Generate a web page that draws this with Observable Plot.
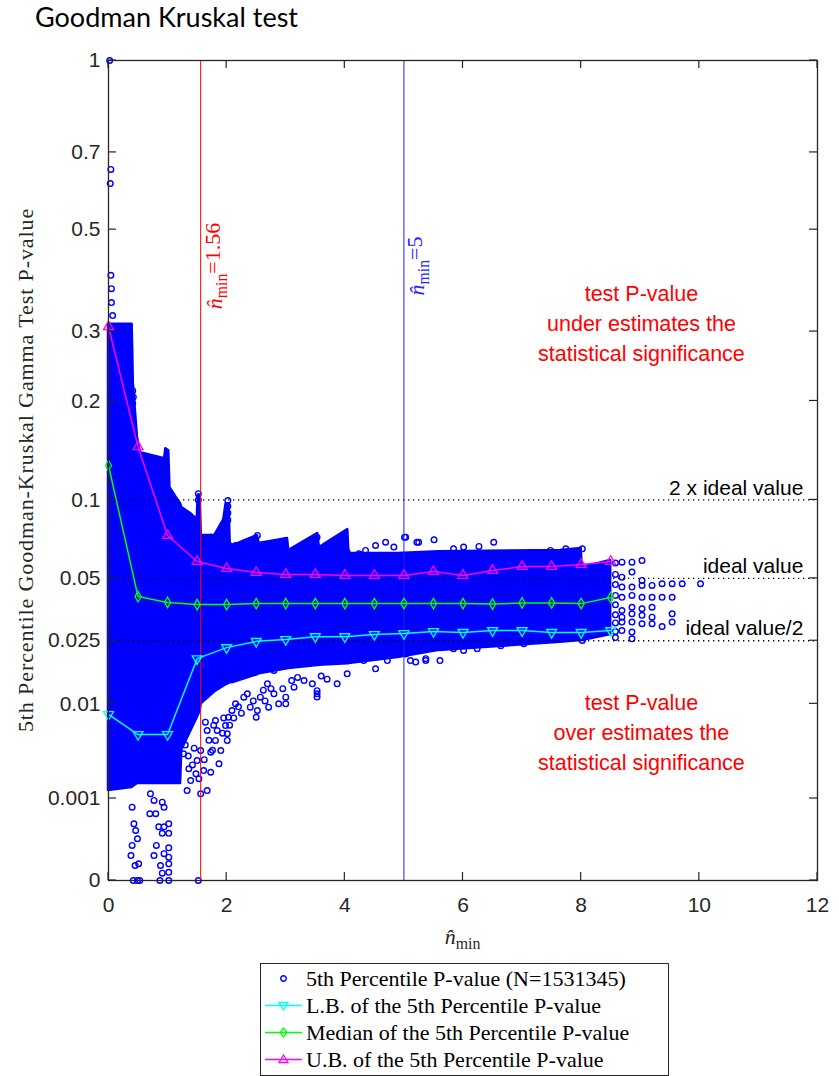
<!DOCTYPE html>
<html>
<head>
<meta charset="utf-8">
<script src="https://cdn.jsdelivr.net/npm/d3@7"></script>
<script src="https://cdn.jsdelivr.net/npm/@observablehq/plot@0.6"></script>
<style>
  body { margin: 0; background: #fff; }
  #wrap { position: relative; width: 839px; height: 1076px; overflow: hidden; background: #fff; }
  #title { position: absolute; left: 35px; top: 3px; font-family: Lato, "Open Sans", sans-serif; font-size: 27px; line-height: 1; color: #000; white-space: nowrap; }
  #chart { position: absolute; left: 0; top: 0; }
  #legend { position: absolute; left: 260px; top: 963px; width: 407px; height: 110px; border: 1px solid #262626; background: #fff; padding-top: 1px; }
  .row { position: relative; height: 27px; }
  .row svg { position: absolute; left: 0; top: 0; }
  .row span { position: absolute; left: 45px; top: 0; line-height: 27px; font-family: "Liberation Serif", "DejaVu Serif", serif; font-size: 22px; color: #000; white-space: nowrap; }
</style>
</head>
<body>
<div id="wrap">
  <div id="chart"></div>
  <div id="title">Goodman Kruskal test</div>
  <div id="legend"></div>
</div>
<script>
// ---------- data ----------
// bin centres of the summary curves (n̂_min)
const nGrid = [0, 0.5, 1, 1.5, 2, 2.5, 3, 3.5, 4, 4.5, 5, 5.5, 6, 6.5, 7, 7.5, 8, 8.5];
// lower bound of the 5th percentile P-value
const lbP  = [0.0083, 0.00564, 0.00564, 0.0198, 0.0229, 0.0248, 0.0254, 0.0263, 0.0263, 0.027, 0.0273, 0.028, 0.0277, 0.0283, 0.0283, 0.0277, 0.0277, 0.0283];
// median of the 5th percentile P-value
const medP = [0.1296, 0.0415, 0.039, 0.0381, 0.0381, 0.0385, 0.0385, 0.0385, 0.0385, 0.0385, 0.0385, 0.0385, 0.0385, 0.0383, 0.0388, 0.0388, 0.0385, 0.0411];
// upper bound of the 5th percentile P-value
const ubP  = [0.308, 0.148, 0.0745, 0.0589, 0.0551, 0.053, 0.052, 0.052, 0.0515, 0.0515, 0.0515, 0.0535, 0.0515, 0.054, 0.0561, 0.0561, 0.0572, 0.0589];

// envelope of the dense scatter cloud
const envN    = [0, 0.40, 0.41, 0.42, 0.49, 0.54, 0.95, 0.97, 1.02, 1.04, 1.18, 1.22, 1.24, 1.39, 1.50, 1.52, 1.55, 1.57, 1.80, 1.95, 1.99, 2.04, 2.06, 2.12, 2.52, 2.55, 3.03, 3.05, 3.54, 3.57, 4.05, 4.07, 4.9, 5.6, 7.65, 8.0, 8.02, 8.5];
const envHigh = [0.312, 0.312, 0.27, 0.223, 0.158, 0.142, 0.136, 0.146, 0.144, 0.110, 0.0995, 0.097, 0.094, 0.0897, 0.085, 0.104, 0.104, 0.0745, 0.0745, 0.085, 0.097, 0.097, 0.0694, 0.0682, 0.0745, 0.0694, 0.0726, 0.0652, 0.0758, 0.067, 0.0784, 0.0634, 0.0634, 0.0645, 0.0652, 0.0664, 0.0556, 0.0594];
const envLow  = [0.00132, 0.00146, 0.0015, 0.0015, 0.00166, 0.00166, 0.00166, 0.00166, 0.00166, 0.00166, 0.00166, 0.00166, 0.004, 0.006, 0.0078, 0.0082, 0.0088, 0.0100, 0.0122, 0.0133, 0.0136, 0.0139, 0.0140, 0.0141, 0.0158, 0.0160, 0.0172, 0.0173, 0.0180, 0.0181, 0.0185, 0.0185, 0.0201, 0.0221, 0.0245, 0.0251, 0.0251, 0.027];

// individual points outside the dense cloud
const outN = [
  0.02, 0.04, 0.03, 0.04, 0.05, 0.05, 0.07, 0.41, 0.42, 0.41,
  1.52, 1.52, 2.02, 2.02, 2.02, 2.02,
  0.40, 0.43, 0.46, 0.49, 0.40, 0.38, 0.45, 0.51, 0.42, 0.49, 0.53,
  0.71, 0.77, 0.70, 0.80, 0.91, 0.94, 0.85, 0.94, 0.91, 1.02, 1.02, 0.81, 0.77, 0.94, 1.02, 1.02, 0.88, 1.02, 0.91, 1.02, 0.87, 1.02, 1.52,
  1.27, 1.36, 1.39, 1.33, 1.50, 1.53, 1.56, 1.67, 1.61, 1.73, 1.56, 1.73, 1.87, 1.90, 1.81, 2.01, 2.01, 1.67, 1.84, 1.98, 2.03, 1.81, 2.09, 2.15, 2.29, 2.40, 2.50, 2.35, 2.52, 2.57, 2.71, 2.69, 2.80, 2.88, 3.00, 3.00, 2.80, 3.14, 3.31, 3.53, 3.87, 4.04, 4.32, 4.52, 4.72, 5.11, 5.37,
  1.30, 1.35, 1.45, 1.42, 1.48, 1.62, 1.70, 1.76, 1.64, 1.78, 1.93, 1.95, 2.05, 2.12, 2.20, 2.25, 2.45, 2.62, 2.65, 2.75, 2.95, 3.10, 3.20, 3.45, 3.60, 3.70, 3.53, 3.53,
  1.73, 1.81, 2.15, 2.32, 2.52, 2.63, 2.77, 2.94, 3.11, 3.53, 3.76, 3.87, 4.04, 4.24, 4.35, 4.52, 4.69, 4.83, 5.01, 5.22, 5.03, 5.25, 5.51, 5.84, 6.01, 6.27, 6.52, 7.48, 7.74, 8.02,
  5.03, 5.20, 5.37, 5.61, 5.84, 6.01, 6.24, 6.64, 7.03, 7.31, 8.02,
  8.58, 8.58, 8.58, 8.58, 8.58, 8.58, 8.58, 8.58, 8.58,
  8.69, 8.69, 8.69, 8.69, 8.69, 8.69, 8.69, 8.69,
  8.86, 8.86, 8.86, 8.86, 8.86, 8.86, 8.86, 8.86, 8.86,
  9.03, 9.03, 9.03, 9.03, 9.03, 9.03, 9.03,
  9.20, 9.20, 9.20, 9.20, 9.20,
  9.37, 9.37, 9.37,
  9.54, 9.54, 9.54, 9.54,
  9.71, 10.02
];
const outP = [
  1.0, 0.652, 0.614, 0.402, 0.376, 0.35, 0.327, 0.213, 0.205, 0.197,
  0.105, 0.1, 0.0995, 0.095, 0.09, 0.085,
  0.000714, 0.00033, 0.000227, 0.000132, 0.000078, 0.000028, 0.0000061, 0.0000084, 0, 0, 0,
  0.00118, 0.00093, 0.00054, 0.00054, 0.00087, 0.00071, 0.00028, 0.00028, 0.00019, 0.00033, 0.00019, 0.000078, 0.000028, 0.000035, 0.000063, 0.000023, 0.0000061, 0.0000084, 0.0000007, 0.000001, 0, 0, 0,
  0.00369, 0.00253, 0.00181, 0.00132, 0.00313, 0.00191, 0.00118, 0.00132, 0.00241, 0.0023, 0.00398, 0.00383, 0.00288, 0.00398, 0.00498, 0.00498, 0.00573, 0.00612, 0.00612, 0.00675, 0.00789, 0.00743, 0.00891, 0.01, 0.01117, 0.00944, 0.00789, 0.0118, 0.00891, 0.01117, 0.00944, 0.0138, 0.0118, 0.01, 0.01, 0.01117, 0.0168, 0.0131, 0.0145, 0.0124, 0.0138, 0.016, 0.0193, 0.0172, 0.0193, 0.0193, 0.0193,
  0.0045, 0.0035, 0.0042, 0.0028, 0.0022, 0.0032, 0.0050, 0.0040, 0.0072, 0.0068, 0.0058, 0.0078, 0.0068, 0.0078, 0.0095, 0.0085, 0.0105, 0.0125, 0.0105, 0.0128, 0.0128, 0.0145, 0.0152, 0.0138, 0.0155, 0.0148, 0.0112, 0.0118,
  0.0734, 0.0736, 0.0682, 0.0702, 0.0745, 0.0672, 0.0662, 0.0702, 0.0642, 0.0734, 0.0652, 0.0652, 0.0642, 0.0632, 0.0652, 0.0682, 0.0702, 0.0672, 0.0734, 0.0702, 0.0734, 0.0702, 0.0717, 0.0662, 0.0672, 0.0676, 0.0702, 0.0652, 0.0662, 0.0662,
  0.0211, 0.0189, 0.0198, 0.0193, 0.0226, 0.0221, 0.0226, 0.0235, 0.0241, 0.0251, 0.0251,
  0.058, 0.052, 0.047, 0.042, 0.038, 0.034, 0.031, 0.028, 0.026,
  0.0585, 0.0506, 0.0458, 0.0412, 0.0357, 0.0331, 0.0313, 0.0283,
  0.0585, 0.0532, 0.0458, 0.042, 0.037, 0.0344, 0.0313, 0.0278, 0.0256,
  0.0594, 0.049, 0.0466, 0.0412, 0.0364, 0.0338, 0.0307,
  0.0466, 0.0412, 0.037, 0.0331, 0.0307,
  0.0474, 0.0412, 0.0297,
  0.0474, 0.0412, 0.0344, 0.0313,
  0.0474, 0.0474
];

// reference lines and labels
const thresholdLines = [1.56, 5];
const idealLines = [0.1, 0.05, 0.025];
const idealLabels = ["2 x ideal value", "ideal value", "ideal value/2"];
const xTicks = [0, 2, 4, 6, 8, 10, 12];
const yTicks = [0, 0.001, 0.01, 0.025, 0.05, 0.1, 0.2, 0.3, 0.5, 0.7, 1];
const legendLabels = [
  "5th Percentile P-value (N=1531345)",
  "L.B. of the 5th Percentile P-value",
  "Median of the 5th Percentile P-value",
  "U.B. of the 5th Percentile P-value"
];

// ---------- tables ----------
const envelope = envN.map((n, i) => ({n, low: envLow[i], high: envHigh[i]}));
const outliers = outN.map((n, i) => ({n, p: outP[i]}));
const bounds = nGrid.map((n, i) => ({n, lb: lbP[i], med: medP[i], ub: ubP[i]}));
const idealTbl = idealLines.map((p, i) => ({p, label: idealLabels[i]}));

const BLUE = "#0000ff", CYAN = "#00ffff", GREEN = "#00ff00", MAGENTA = "#ff00ff";

const plot = Plot.plot({
  width: 839,
  height: 960,
  marginLeft: 108,
  marginRight: 22,
  marginTop: 60,
  marginBottom: 80,
  style: {fontFamily: "'Liberation Sans', Arial, sans-serif", fontSize: "21px", color: "#262626", background: "transparent", overflow: "visible"},
  x: {domain: [0, 12], label: null},
  y: {type: "pow", exponent: 1 / 3, domain: [0, 1], label: null},
  marks: [
    Plot.areaY(envelope, {x: "n", y1: "low", y2: "high", fill: BLUE, stroke: BLUE, strokeWidth: 2.5, curve: "linear"}),
    Plot.dot(outliers, {x: "n", y: "p", r: 2.8, stroke: BLUE, strokeWidth: 1.4, fill: "none"}),
    Plot.ruleX(thresholdLines, {stroke: (d) => d === 5 ? "#2222ff" : "#ff0000", strokeWidth: 1}),
    Plot.ruleY(idealLines, {stroke: "#000", strokeWidth: 1.3, strokeDasharray: "1.3,3.7"}),
    Plot.line(bounds, {x: "n", y: "lb", stroke: CYAN, strokeWidth: 1.5}),
    Plot.dot(bounds, {x: "n", y: "lb", symbol: "triangle", rotate: 180, r: 3.7, stroke: CYAN, strokeWidth: 1.3, fill: "none"}),
    Plot.line(bounds, {x: "n", y: "med", stroke: GREEN, strokeWidth: 1.5}),
    Plot.dot(bounds, {x: "n", y: "med", symbol: "diamond", r: 3.2, stroke: GREEN, strokeWidth: 1.3, fill: "none"}),
    Plot.line(bounds, {x: "n", y: "ub", stroke: MAGENTA, strokeWidth: 1.5}),
    Plot.dot(bounds, {x: "n", y: "ub", symbol: "triangle", r: 3.7, stroke: MAGENTA, strokeWidth: 1.3, fill: "none"}),
    Plot.text(idealTbl, {x: () => 11.76, y: "p", text: "label", textAnchor: "end", dy: -12, fill: "#000", fontSize: 21}),
    Plot.text(["test P-value\nunder estimates the\nstatistical significance"], {x: () => 9.02, y: () => 0.3168, textAnchor: "middle", lineAnchor: "middle", lineHeight: 1.38, fill: "#ff0000", fontSize: 21.5}),
    Plot.text(["test P-value\nover estimates the\nstatistical significance"], {x: () => 9.02, y: () => 0.00612, textAnchor: "middle", lineAnchor: "middle", lineHeight: 1.38, fill: "#ff0000", fontSize: 21.5}),
    Plot.axisX({anchor: "bottom", ticks: xTicks, tickSize: 0, tickPadding: 17, label: null, fill: "#262626"}),
    Plot.axisY({anchor: "left", ticks: yTicks, tickSize: 0, tickPadding: 8, tickFormat: (d) => String(d), label: null, fill: "#262626"}),
    Plot.frame({stroke: "#262626", strokeWidth: 1.3})
  ]
});
document.getElementById("chart").appendChild(plot);

// ---------- inward ticks and rich-text labels, placed with the plot's scales ----------
const xs = plot.scale("x"), ys = plot.scale("y");
const X = d3.scaleLinear().domain(xs.domain).range(xs.range);
const Y = d3.scalePow().exponent(1 / 3).domain(ys.domain).range(ys.range);
const svg = d3.select(plot);
const serif = "'Liberation Serif', 'DejaVu Serif', serif";
const TL = 8;

const tickG = svg.append("g").attr("stroke", "#262626").attr("stroke-width", 1.2);
xTicks.forEach((v) => {
  tickG.append("line").attr("x1", X(v)).attr("x2", X(v)).attr("y1", Y(0)).attr("y2", Y(0) - TL);
  tickG.append("line").attr("x1", X(v)).attr("x2", X(v)).attr("y1", Y(1)).attr("y2", Y(1) + TL);
});
yTicks.forEach((v) => {
  tickG.append("line").attr("x1", X(0)).attr("x2", X(0) + TL).attr("y1", Y(v)).attr("y2", Y(v));
  tickG.append("line").attr("x1", X(12)).attr("x2", X(12) - TL).attr("y1", Y(v)).attr("y2", Y(v));
});

function nmin(sel, suffix) {
  sel.append("tspan").attr("font-style", "italic").text("n\u0302");
  sel.append("tspan").attr("font-size", "72%").attr("dy", "0.3em").text("min");
  if (suffix) sel.append("tspan").attr("dy", "-0.3em").text(suffix);
}

// y axis title
svg.append("text")
  .attr("transform", `translate(25,470) rotate(-90)`)
  .attr("text-anchor", "middle").attr("dy", "0.35em")
  .attr("font-family", serif).attr("font-size", 22).attr("letter-spacing", "0.9px")
  .attr("fill", "#262626")
  .text("5th Percentile Goodman-Kruskal Gamma Test P-value");

// x axis title
const xl = svg.append("text")
  .attr("x", (X(0) + X(12)) / 2).attr("y", 944)
  .attr("text-anchor", "middle")
  .attr("font-family", serif).attr("font-size", 22).attr("fill", "#262626");
nmin(xl, "");

// threshold labels
[[1.56, "=1.56", "#ff0000", 15], [5, "=5", "#2222ff", 14]].forEach(([v, s, c, off]) => {
  const t = svg.append("text")
    .attr("transform", `translate(${X(v) + off},266) rotate(-90)`)
    .attr("text-anchor", "middle").attr("dy", "0.3em")
    .attr("font-family", serif).attr("font-size", 22).attr("fill", c);
  nmin(t, s);
});

// ---------- legend ----------
const legend = d3.select("#legend");
const kinds = [
  {color: BLUE, line: false, sym: "circle"},
  {color: CYAN, line: true, sym: "down"},
  {color: GREEN, line: true, sym: "diamond"},
  {color: MAGENTA, line: true, sym: "up"}
];
legendLabels.forEach((lab, i) => {
  const k = kinds[i];
  const row = legend.append("div").attr("class", "row");
  const s = row.append("svg").attr("width", 44).attr("height", 27);
  if (k.line) s.append("line").attr("x1", 4).attr("x2", 41).attr("y1", 13.5).attr("y2", 13.5).attr("stroke", k.color).attr("stroke-width", 1.5);
  const g = s.append("g").attr("transform", "translate(22.5,13.5)").attr("fill", "none").attr("stroke", k.color).attr("stroke-width", 1.3);
  if (k.sym === "circle") g.append("circle").attr("r", 2.8).attr("stroke-width", 1.4);
  if (k.sym === "down") g.append("path").attr("d", "M-4.5,-3L4.5,-3L0,4.5Z");
  if (k.sym === "up") g.append("path").attr("d", "M-4.5,3L4.5,3L0,-4.5Z");
  if (k.sym === "diamond") g.append("path").attr("d", "M0,-4.5L3.2,0L0,4.5L-3.2,0Z");
  row.append("span").text(lab);
});
</script>
</body>
</html>
